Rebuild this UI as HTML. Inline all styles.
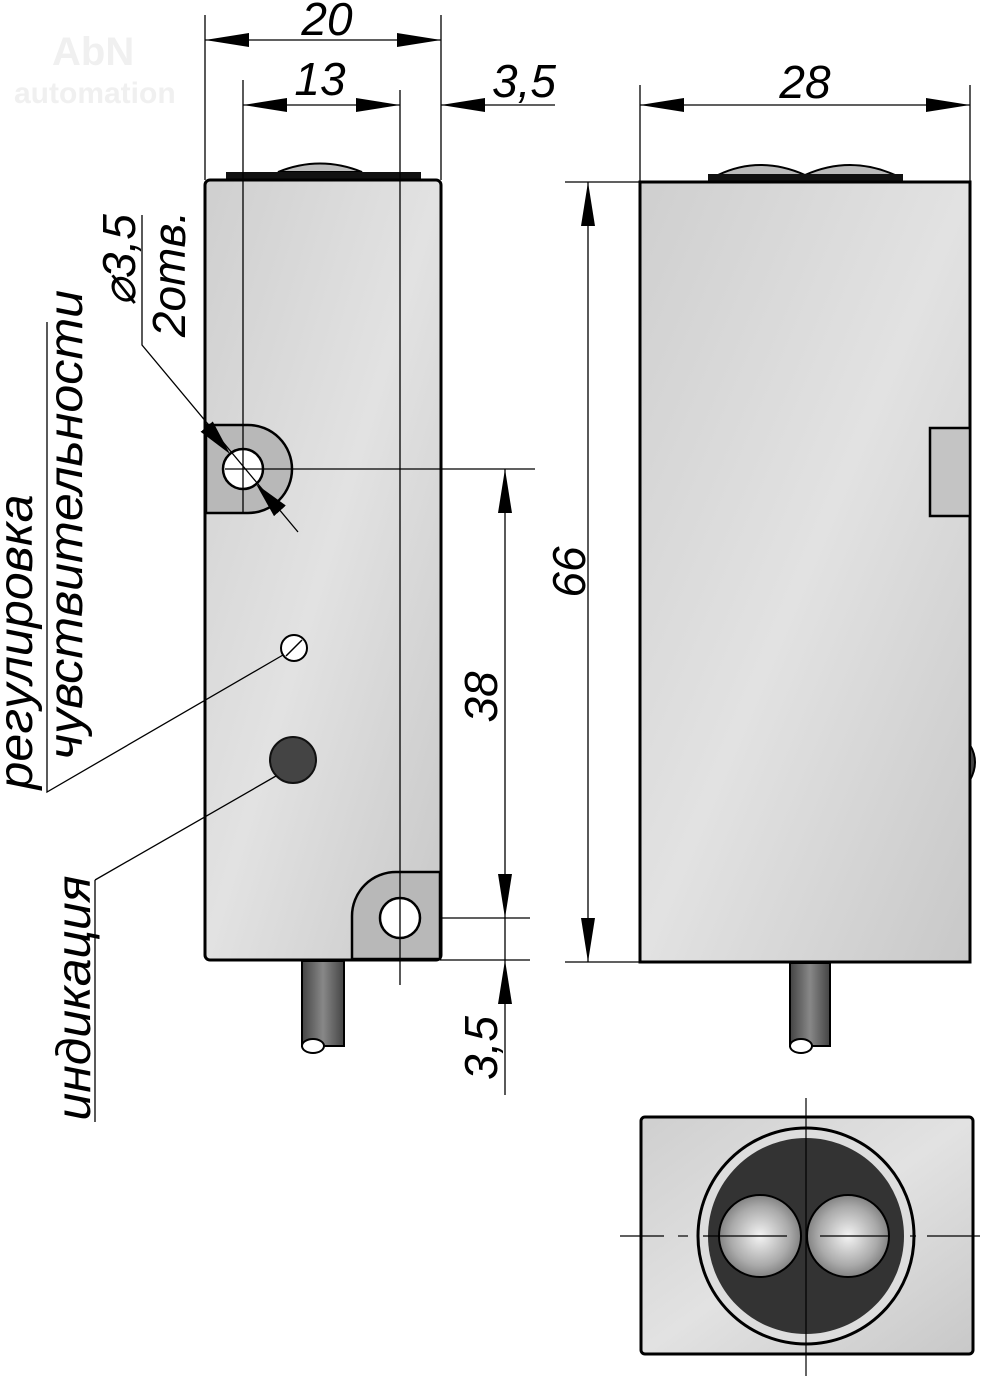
<!DOCTYPE html>
<html><head><meta charset="utf-8"><style>
html,body{margin:0;padding:0;background:#fff}
svg{display:block}
text{font-family:"Liberation Sans",sans-serif;font-style:italic}
</style></head><body>
<svg width="1004" height="1376" viewBox="0 0 1004 1376" xmlns="http://www.w3.org/2000/svg">
<defs>
<linearGradient id="body" x1="0" y1="0" x2="1" y2="1">
<stop offset="0" stop-color="#cfcfcf"/><stop offset="0.5" stop-color="#e2e2e2"/><stop offset="1" stop-color="#c8c8c8"/></linearGradient>
<radialGradient id="lens" cx="0.5" cy="0.5" r="0.6">
<stop offset="0" stop-color="#f4f4f4"/><stop offset="0.6" stop-color="#aaa"/><stop offset="1" stop-color="#666"/></radialGradient>
<linearGradient id="cab" x1="0" y1="0" x2="1" y2="0"><stop offset="0" stop-color="#444"/><stop offset="0.5" stop-color="#888"/><stop offset="1" stop-color="#444"/></linearGradient>
<marker id="a" viewBox="0 0 44 14" refX="44" refY="7" markerWidth="44" markerHeight="14" markerUnits="userSpaceOnUse" orient="auto"><path d="M0,0 L44,7 L0,14z" fill="#000"/></marker>
<marker id="b" viewBox="0 0 36 16" refX="36" refY="8" markerWidth="36" markerHeight="16" markerUnits="userSpaceOnUse" orient="auto"><path d="M0,0 L36,8 L0,16z" fill="#000"/></marker>
</defs>
<text x="52" y="65" font-size="40" style="font-style:normal;font-weight:bold;fill:#f0f0f0">AbN</text>
<text x="14" y="103" font-size="30" style="font-style:normal;font-weight:bold;fill:#f0f0f0">automation</text>

<!-- LEFT VIEW -->
<path d="M278,172 Q320,155 362,172z" fill="#bbb" stroke="#000" stroke-width="2"/>
<rect x="226" y="172" width="195" height="8" fill="#111"/>
<rect x="205" y="180" width="236" height="780" rx="5" fill="url(#body)" stroke="#000" stroke-width="3"/>
<path d="M206,425 H248 A44,44 0 0 1 292,469 A44,44 0 0 1 248,513 H206z" fill="#b8b8b8" stroke="#000" stroke-width="2.5"/>
<circle cx="243" cy="469" r="20" fill="#fff" stroke="#000" stroke-width="2.5"/>
<path d="M440,872 H396 A44,44 0 0 0 352,916 V959 H440z" fill="#b8b8b8" stroke="#000" stroke-width="2.5"/>
<circle cx="400" cy="918" r="20" fill="#fff" stroke="#000" stroke-width="2.5"/>
<circle cx="294" cy="648" r="13" fill="#fff" stroke="#000" stroke-width="2"/>
<line x1="286" y1="656" x2="302" y2="640" stroke="#000" stroke-width="1.5"/>
<circle cx="293" cy="760" r="23" fill="#444" stroke="#111" stroke-width="2"/>
<rect x="302" y="961" width="42" height="85" fill="url(#cab)" stroke="#000" stroke-width="2"/>
<ellipse cx="313" cy="1046" rx="11" ry="7" fill="#fff" stroke="#000" stroke-width="2"/>

<g stroke="#000" stroke-width="1.3" fill="none">
<line x1="205" y1="15" x2="205" y2="180"/><line x1="441" y1="15" x2="441" y2="180"/>
<line x1="243" y1="80" x2="243" y2="512"/><line x1="400" y1="90" x2="400" y2="985"/>
<line x1="205" y1="40" x2="441" y2="40"/>
<line x1="243" y1="105" x2="400" y2="105"/>
<line x1="441" y1="105" x2="555" y2="105"/>
<line x1="225" y1="469" x2="535" y2="469"/>
<line x1="440" y1="918" x2="530" y2="918"/>
<line x1="440" y1="960" x2="530" y2="960"/>
<line x1="505" y1="469" x2="505" y2="918"/>
<line x1="505" y1="918" x2="505" y2="1095"/>
</g>
<g stroke="#000" stroke-width="0.01">
<line x1="300" y1="40" x2="205" y2="40" marker-end="url(#a)"/>
<line x1="350" y1="40" x2="441" y2="40" marker-end="url(#a)"/>
<line x1="300" y1="105" x2="243" y2="105" marker-end="url(#a)"/>
<line x1="340" y1="105" x2="400" y2="105" marker-end="url(#a)"/>
<line x1="500" y1="105" x2="441" y2="105" marker-end="url(#a)"/>
<line x1="505" y1="520" x2="505" y2="469" marker-end="url(#a)"/>
<line x1="505" y1="860" x2="505" y2="918" marker-end="url(#a)"/>
<line x1="505" y1="1010" x2="505" y2="960" marker-end="url(#a)"/>
</g>
<text x="327" y="35" font-size="46" text-anchor="middle">20</text>
<text x="320" y="95" font-size="46" text-anchor="middle">13</text>
<text x="524" y="97" font-size="46" text-anchor="middle">3,5</text>
<text transform="translate(497,697) rotate(-90)" font-size="46" text-anchor="middle">38</text>
<text transform="translate(497,1048) rotate(-90)" font-size="46" text-anchor="middle">3,5</text>

<g stroke="#000" stroke-width="1.3" fill="none">
<polyline points="142,215 142,345 298,532"/>
</g>
<line x1="190" y1="407" x2="230" y2="454" stroke="#000" stroke-width="0.01" marker-end="url(#b)"/>
<line x1="298" y1="531" x2="256" y2="484" stroke="#000" stroke-width="0.01" marker-end="url(#b)"/>
<text transform="translate(135,260) rotate(-90)" font-size="46" text-anchor="middle">⌀3,5</text>
<text transform="translate(185,274) rotate(-90)" font-size="46" text-anchor="middle">2отв.</text>

<g stroke="#000" stroke-width="1.3" fill="none">
<polyline points="47,322 47,792 283,655"/>
<polyline points="95,880 95,1122"/>
<line x1="95" y1="880" x2="276" y2="776"/>
</g>
<text transform="translate(32,642) rotate(-90)" font-size="48" text-anchor="middle" textLength="295" lengthAdjust="spacingAndGlyphs">регулировка</text>
<text transform="translate(82,525) rotate(-90)" font-size="48" text-anchor="middle" textLength="470" lengthAdjust="spacingAndGlyphs">чувствительности</text>
<text transform="translate(90,998) rotate(-90)" font-size="48" text-anchor="middle" textLength="245" lengthAdjust="spacingAndGlyphs">индикация</text>

<!-- RIGHT VIEW -->
<path d="M718,175 Q760,155 805,175z" fill="#bbb" stroke="#000" stroke-width="2"/>
<path d="M805,175 Q850,155 895,175z" fill="#bbb" stroke="#000" stroke-width="2"/>
<rect x="708" y="174" width="195" height="8" fill="#111"/>
<rect x="640" y="182" width="330" height="780" fill="url(#body)" stroke="#000" stroke-width="3"/>
<rect x="930" y="428" width="40" height="88" fill="#c4c4c4" stroke="#000" stroke-width="2.5"/>
<path d="M970,745 Q980,762 970,780z" fill="#444" stroke="#000" stroke-width="2"/>
<rect x="790" y="963" width="40" height="83" fill="url(#cab)" stroke="#000" stroke-width="2"/>
<ellipse cx="801" cy="1046" rx="11" ry="7" fill="#fff" stroke="#000" stroke-width="2"/>
<g stroke="#000" stroke-width="1.3" fill="none">
<line x1="640" y1="85" x2="640" y2="182"/><line x1="970" y1="85" x2="970" y2="182"/>
<line x1="640" y1="105" x2="970" y2="105"/>
<line x1="565" y1="182" x2="640" y2="182"/><line x1="565" y1="962" x2="640" y2="962"/>
<line x1="588" y1="182" x2="588" y2="962"/>
</g>
<g stroke="#000" stroke-width="0.01">
<line x1="700" y1="105" x2="640" y2="105" marker-end="url(#a)"/>
<line x1="910" y1="105" x2="970" y2="105" marker-end="url(#a)"/>
<line x1="588" y1="240" x2="588" y2="182" marker-end="url(#a)"/>
<line x1="588" y1="900" x2="588" y2="962" marker-end="url(#a)"/>
</g>
<text x="805" y="98" font-size="46" text-anchor="middle">28</text>
<text transform="translate(585,572) rotate(-90)" font-size="46" text-anchor="middle">66</text>

<!-- BOTTOM VIEW -->
<rect x="641" y="1117" width="332" height="237" rx="4" fill="url(#body)" stroke="#000" stroke-width="3"/>
<circle cx="806" cy="1236" r="108" fill="#ddd" stroke="#000" stroke-width="3"/>
<circle cx="806" cy="1236" r="98" fill="#333"/>
<circle cx="760" cy="1236" r="41" fill="url(#lens)" stroke="#000" stroke-width="2"/>
<circle cx="848" cy="1236" r="41" fill="url(#lens)" stroke="#000" stroke-width="2"/>
<g stroke="#000" stroke-width="1.2">
<line x1="806" y1="1098" x2="806" y2="1376"/>
<line x1="620" y1="1236" x2="664" y2="1236"/><line x1="678" y1="1236" x2="688" y2="1236"/>
<line x1="703" y1="1236" x2="787" y2="1236"/><line x1="820" y1="1236" x2="890" y2="1236"/>
<line x1="910" y1="1236" x2="916" y2="1236"/><line x1="927" y1="1236" x2="980" y2="1236"/>
</g>
</svg>
</body></html>
